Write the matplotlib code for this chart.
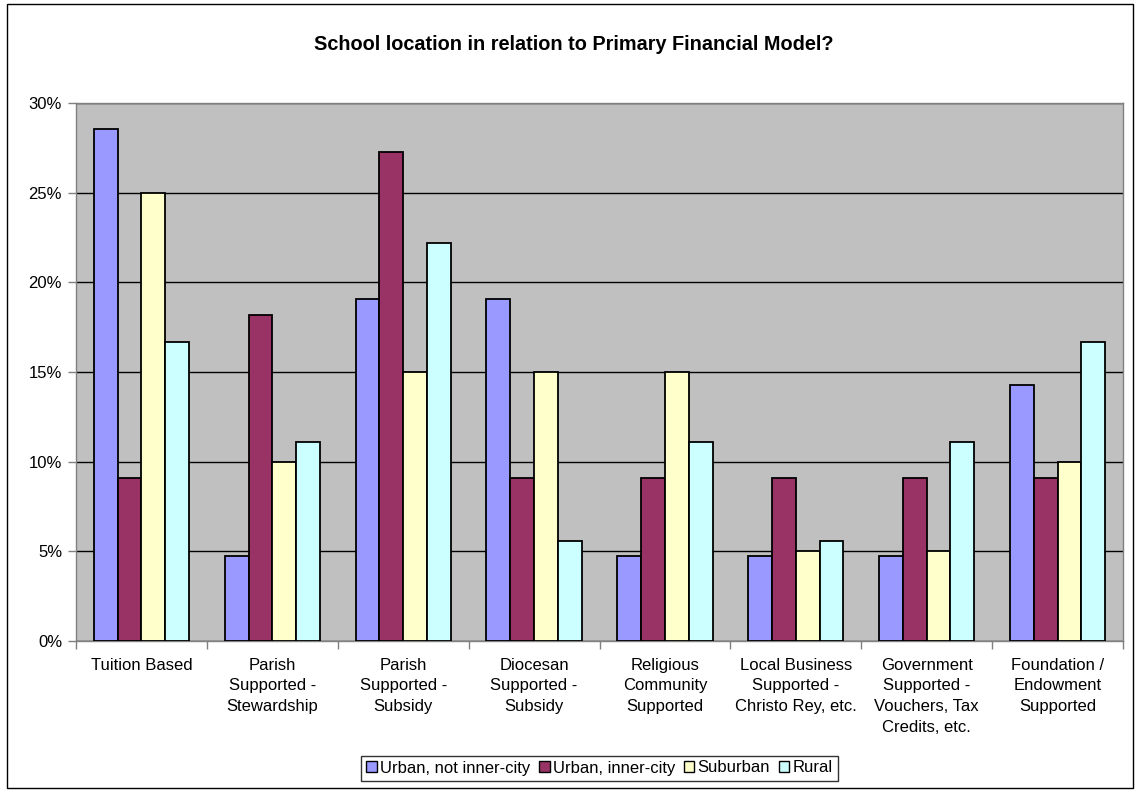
import numpy as np
import matplotlib
matplotlib.use("Agg")
import matplotlib.pyplot as plt
from matplotlib.patches import Rectangle
from matplotlib.ticker import PercentFormatter, FixedLocator

plt.rcParams['font.family'] = ['Liberation Sans', 'DejaVu Sans']

categories = [
    "Tuition Based",
    "Parish\nSupported -\nStewardship",
    "Parish\nSupported -\nSubsidy",
    "Diocesan\nSupported -\nSubsidy",
    "Religious\nCommunity\nSupported",
    "Local Business\nSupported -\nChristo Rey, etc.",
    "Government\nSupported -\nVouchers, Tax\nCredits, etc.",
    "Foundation /\nEndowment\nSupported",
]
series_names = ["Urban, not inner-city", "Urban, inner-city", "Suburban", "Rural"]
urban_not_inner = [28.57, 4.76, 19.05, 19.05, 4.76, 4.76, 4.76, 14.29]
urban_inner = [9.09, 18.18, 27.27, 9.09, 9.09, 9.09, 9.09, 9.09]
suburban = [25.0, 10.0, 15.0, 15.0, 15.0, 5.0, 5.0, 10.0]
rural = [16.67, 11.11, 22.22, 5.56, 11.11, 5.56, 11.11, 16.67]
colors = ["#9999FF", "#993366", "#FFFFCC", "#CCFFFF"]

W, H = 1141, 792
fig = plt.figure(figsize=(W / 100, H / 100), dpi=100)

# chart-area border
fig.patches.append(Rectangle((7 / W, 4 / H), (1133 - 7) / W, (788 - 4) / H,
                             transform=fig.transFigure, fill=False,
                             edgecolor="black", linewidth=1))

left, right, top, bottom = 76, 1123, 103, 641
ax = fig.add_axes([left / W, 1 - bottom / H, (right - left) / W, (bottom - top) / H])
ax.set_facecolor("#C0C0C0")

n = len(categories)
x = np.arange(n)
bw = 1 / 5.5
all_series = [urban_not_inner, urban_inner, suburban, rural]
for i, (vals, c, name) in enumerate(zip(all_series, colors, series_names)):
    ax.bar(x + (i - 1.5) * bw, vals, width=bw, color=c, edgecolor="black",
           linewidth=1.3, label=name, zorder=3)

ax.set_xlim(-0.5, n - 0.5)
ax.set_ylim(0, 30)
ax.set_yticks(np.arange(0, 31, 5))
ax.yaxis.set_major_formatter(PercentFormatter(decimals=0))
ax.yaxis.grid(True, color="black", linewidth=1, zorder=1)
ax.set_axisbelow(True)

ax.set_xticks(x)
ax.set_xticklabels(categories, fontsize=12, linespacing=1.48, va="top")
ax.tick_params(axis="x", length=0, pad=12)
ax.xaxis.set_minor_locator(FixedLocator(np.arange(-0.5, n, 1.0)))
ax.tick_params(axis="x", which="minor", length=6, width=1, color="#808080")
ax.tick_params(axis="y", length=6, width=1, color="#808080", labelsize=12, pad=4)

for s in ax.spines.values():
    s.set_color("#808080")
    s.set_linewidth(1)

fig.text(574 / W, 1 - 44 / H, "School location in relation to Primary Financial Model?",
         ha="center", va="center", fontsize=14.3, fontweight="bold")

leg = fig.legend(loc="center", bbox_to_anchor=(599.5 / W, 1 - 768 / H), ncol=4,
                 frameon=True, fancybox=False, fontsize=12, handlelength=0.62,
                 handleheight=0.62, handletextpad=0.18, columnspacing=0.55,
                 borderpad=0.3, borderaxespad=0)
leg.get_frame().set_edgecolor("black")
leg.get_frame().set_linewidth(1)
for h in leg.legend_handles:
    h.set_linewidth(1)

fig.savefig("out.png", dpi=100)
